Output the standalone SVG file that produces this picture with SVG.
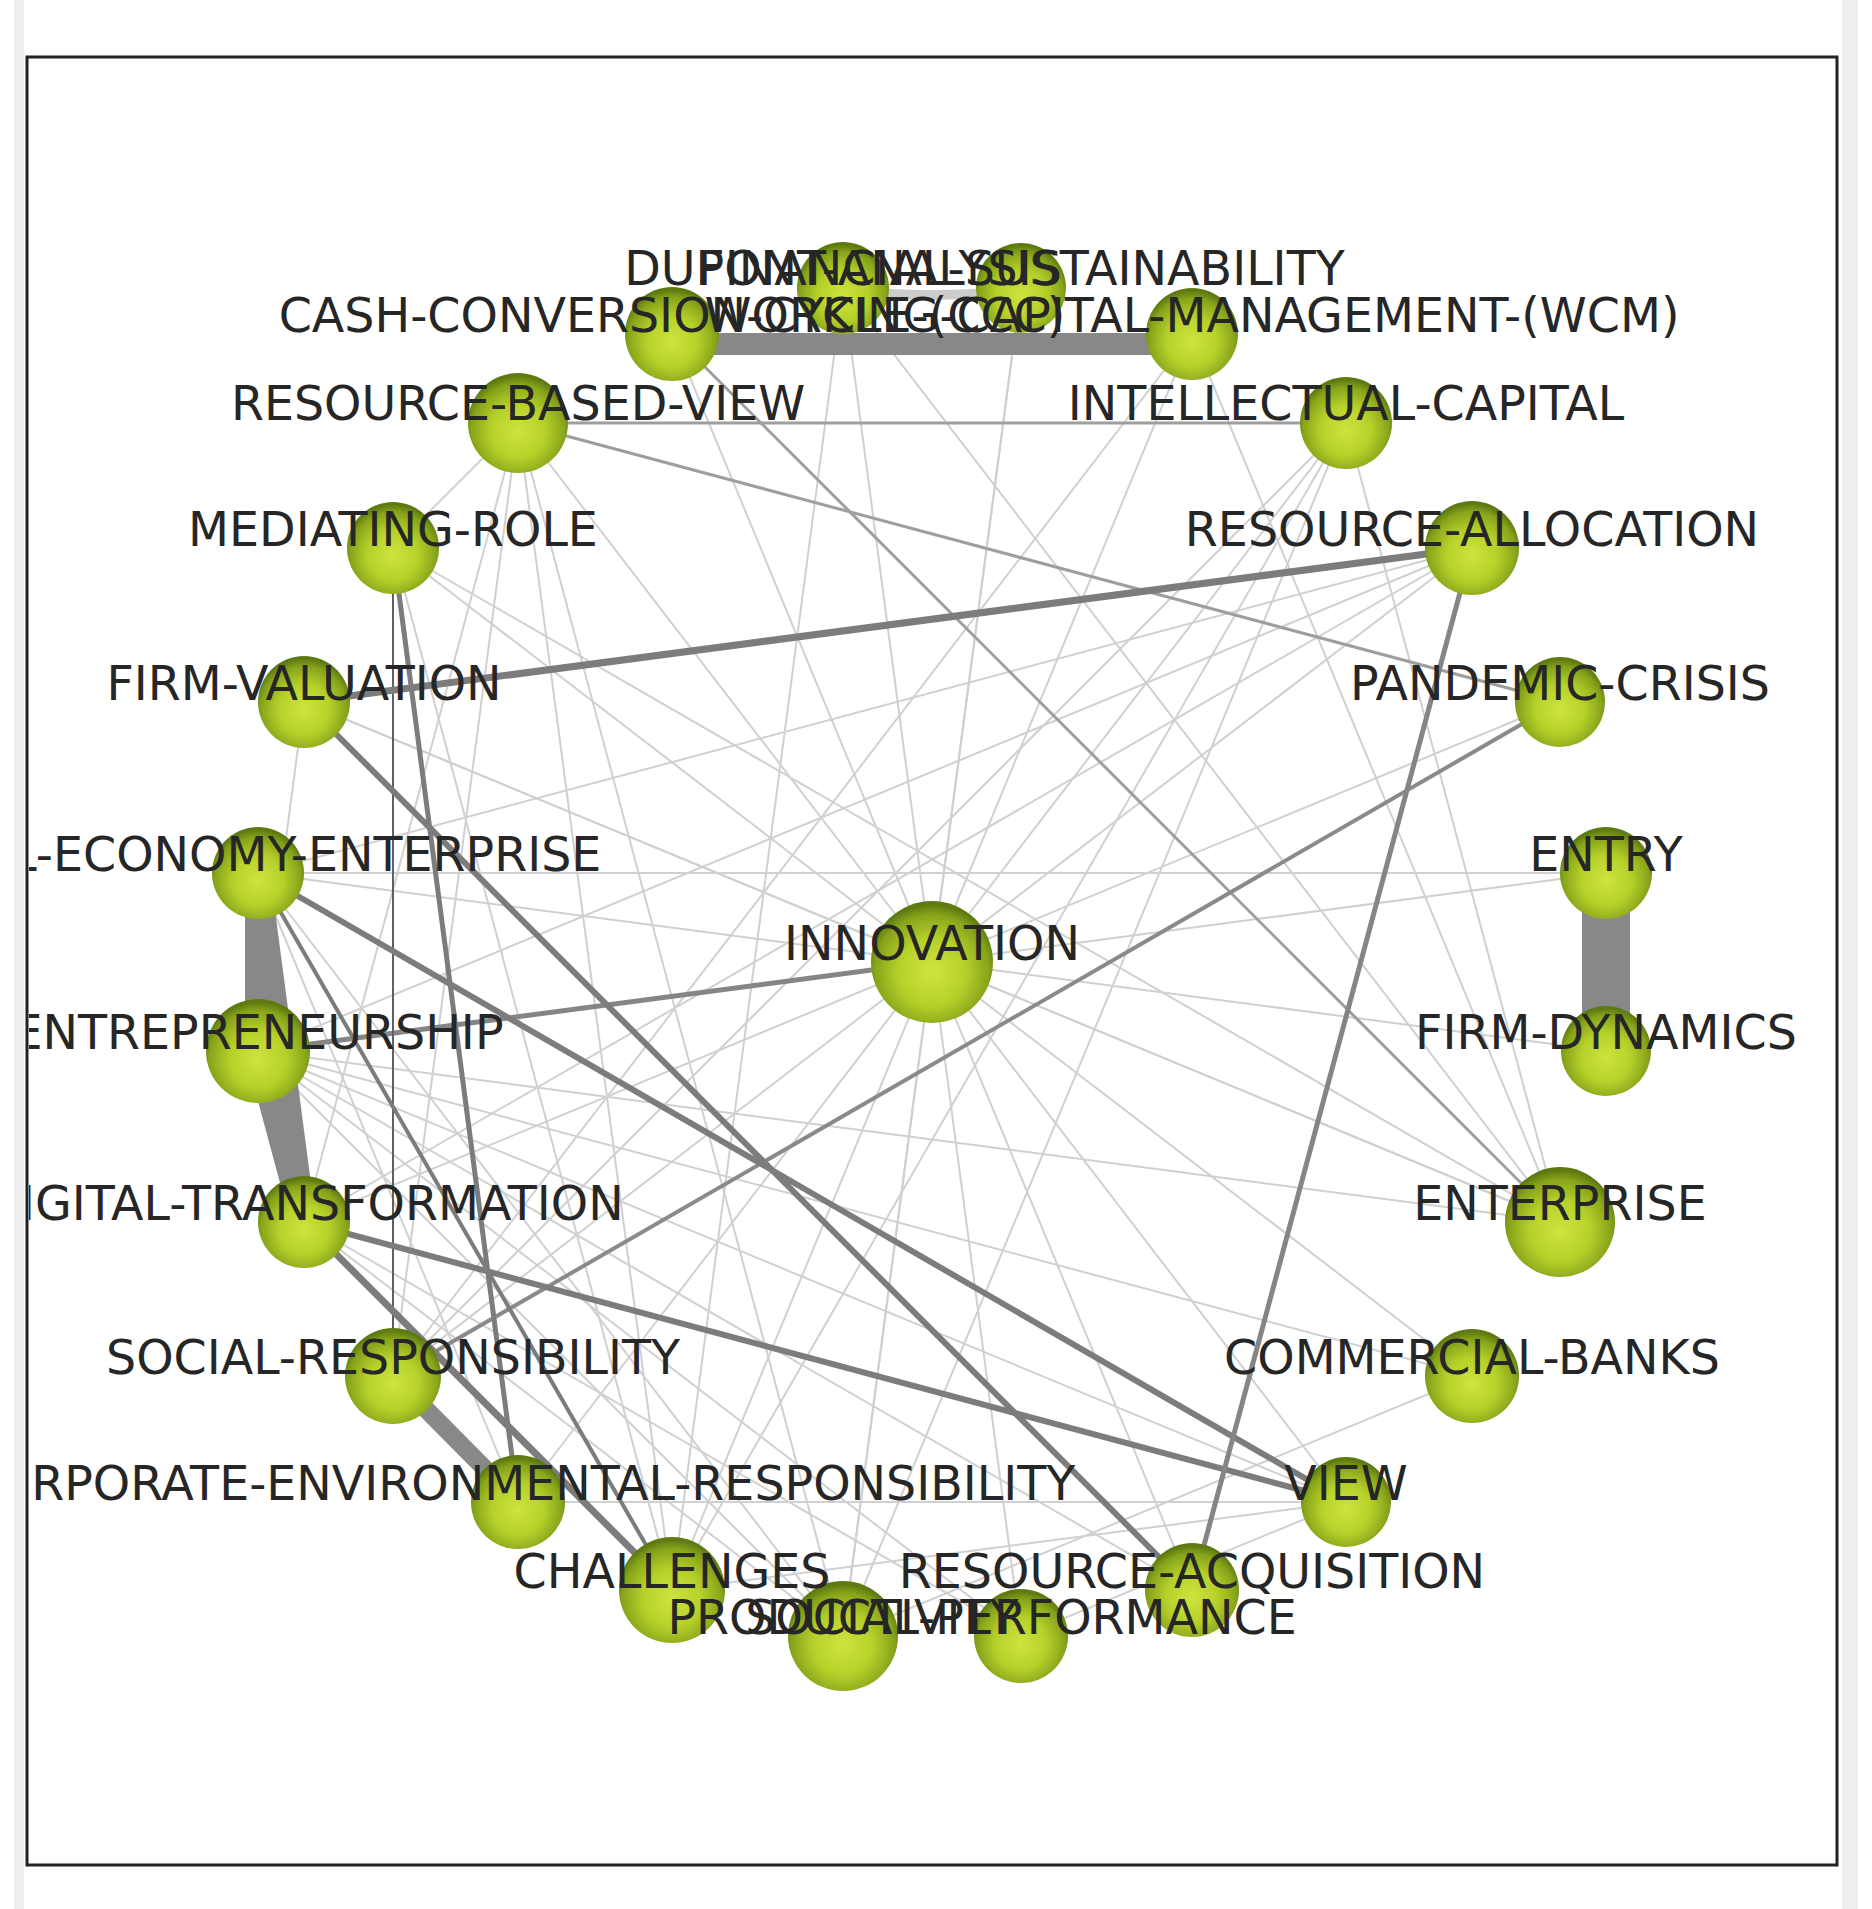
<svg xmlns="http://www.w3.org/2000/svg" width="1872" height="1909" viewBox="0 0 1872 1909">
<defs>
<radialGradient id="ball" cx="50%" cy="58%" r="55%">
<stop offset="0" stop-color="#cfe43e"/>
<stop offset="0.5" stop-color="#b6d02a"/>
<stop offset="0.85" stop-color="#87a41a"/>
<stop offset="1" stop-color="#5e7b12"/>
</radialGradient>
<clipPath id="frame"><rect x="29" y="59" width="1806" height="1804"/></clipPath>
<style>
.e1{stroke:#d0d0d0;stroke-width:2;fill:none}
.e2{stroke:#9e9e9e;stroke-width:3;fill:none}
.e3{stroke:#7c7c7c;stroke-width:6;fill:none}
.e4{stroke:#707070;stroke-width:3;fill:none}
.ek{stroke:#888888;fill:none}
.n{fill:url(#ball)}
.lbl{font-family:"DejaVu Sans","Liberation Sans",sans-serif;font-size:47.5px;fill:#262626;text-anchor:middle}
</style>
</defs>
<rect width="1872" height="1909" fill="#ffffff"/>
<rect x="14" y="0" width="10" height="1909" fill="#eeeeee"/>
<rect x="1842" y="0" width="16" height="1909" fill="#eeeeee"/>
<g clip-path="url(#frame)">
<g id="connectors">
<line class="e1" x1="932" y1="962" x2="1021" y2="288"/>
<line class="e1" x1="932" y1="962" x2="1192" y2="334"/>
<line class="e1" x1="932" y1="962" x2="1346" y2="423"/>
<line class="e1" x1="932" y1="962" x2="1472" y2="548"/>
<line class="e1" x1="932" y1="962" x2="1560" y2="702"/>
<line class="e1" x1="932" y1="962" x2="1606" y2="873"/>
<line class="e1" x1="932" y1="962" x2="1606" y2="1051"/>
<line class="e1" x1="932" y1="962" x2="1560" y2="1222"/>
<line class="e1" x1="932" y1="962" x2="1472" y2="1376"/>
<line class="e1" x1="932" y1="962" x2="1346" y2="1502"/>
<line class="e1" x1="932" y1="962" x2="1192" y2="1590"/>
<line class="e1" x1="932" y1="962" x2="1021" y2="1636"/>
<line class="e1" x1="932" y1="962" x2="843" y2="1636"/>
<line class="e1" x1="932" y1="962" x2="672" y2="1590"/>
<line class="e1" x1="932" y1="962" x2="518" y2="1502"/>
<line class="e1" x1="932" y1="962" x2="393" y2="1376"/>
<line class="e1" x1="932" y1="962" x2="304" y2="1222"/>
<line class="e1" x1="932" y1="962" x2="258" y2="873"/>
<line class="e1" x1="932" y1="962" x2="304" y2="702"/>
<line class="e1" x1="932" y1="962" x2="393" y2="548"/>
<line class="e1" x1="932" y1="962" x2="518" y2="423"/>
<line class="e1" x1="932" y1="962" x2="672" y2="334"/>
<line class="e1" x1="932" y1="962" x2="843" y2="288"/>
<line class="e1" x1="518" y1="423" x2="393" y2="548"/>
<line class="e1" x1="518" y1="423" x2="393" y2="1376"/>
<line class="e1" x1="518" y1="423" x2="304" y2="1222"/>
<line class="e1" x1="518" y1="423" x2="672" y2="1590"/>
<line class="e1" x1="518" y1="423" x2="843" y2="1636"/>
<line class="e1" x1="393" y1="548" x2="672" y2="1590"/>
<line class="e1" x1="393" y1="548" x2="1560" y2="1222"/>
<line class="e1" x1="258" y1="873" x2="1472" y2="548"/>
<line class="e1" x1="258" y1="1051" x2="1472" y2="548"/>
<line class="e1" x1="304" y1="1222" x2="1472" y2="548"/>
<line class="e1" x1="1346" y1="423" x2="393" y2="1376"/>
<line class="e1" x1="1346" y1="423" x2="672" y2="1590"/>
<line class="e1" x1="1346" y1="423" x2="843" y2="1636"/>
<line class="e1" x1="258" y1="1051" x2="1560" y2="1222"/>
<line class="e1" x1="258" y1="1051" x2="1472" y2="1376"/>
<line class="e1" x1="258" y1="1051" x2="1346" y2="1502"/>
<line class="e1" x1="258" y1="1051" x2="1192" y2="1590"/>
<line class="e1" x1="258" y1="1051" x2="1021" y2="1636"/>
<line class="e1" x1="258" y1="1051" x2="843" y2="1636"/>
<line class="e1" x1="258" y1="873" x2="843" y2="1636"/>
<line class="e1" x1="258" y1="873" x2="518" y2="1502"/>
<line class="e1" x1="304" y1="1222" x2="1021" y2="1636"/>
<line class="e1" x1="304" y1="1222" x2="843" y2="1636"/>
<line class="e1" x1="518" y1="1502" x2="1346" y2="1502"/>
<line class="e1" x1="672" y1="1590" x2="1346" y2="1502"/>
<line class="e1" x1="843" y1="1636" x2="1472" y2="1376"/>
<line class="e1" x1="1021" y1="1636" x2="1346" y2="1502"/>
<line class="e1" x1="1606" y1="873" x2="258" y2="873"/>
<line class="e1" x1="1560" y1="1222" x2="1192" y2="334"/>
<line class="e1" x1="1560" y1="1222" x2="1346" y2="423"/>
<line class="e1" x1="1560" y1="1222" x2="843" y2="288"/>
<line class="e1" x1="1560" y1="1222" x2="304" y2="702"/>
<line class="e1" x1="304" y1="702" x2="258" y2="1051"/>
<line class="e1" x1="843" y1="288" x2="672" y2="1590"/>
<line class="e1" x1="1021" y1="288" x2="843" y2="1636"/>
<line class="e1" x1="1192" y1="334" x2="393" y2="1376"/>
<line class="e2" x1="518" y1="423" x2="1346" y2="423"/>
<line class="e2" x1="518" y1="423" x2="1560" y2="702"/>
<line class="e2" x1="672" y1="334" x2="1560" y2="1222"/>
<line class="e2" x1="1560" y1="702" x2="393" y2="1376" style="stroke:#8a8a8a;stroke-width:4"/>
<line class="e2" x1="258" y1="1051" x2="932" y2="962" style="stroke:#858585;stroke-width:5"/>
<line class="e4" x1="393" y1="548" x2="393" y2="1376" style="stroke:#606060;stroke-width:2"/>
<line class="e3" x1="304" y1="702" x2="1472" y2="548" style="stroke-width:7"/>
<line class="e3" x1="304" y1="702" x2="1192" y2="1590"/>
<line class="e3" x1="258" y1="873" x2="1346" y2="1502"/>
<line class="e3" x1="304" y1="1222" x2="1346" y2="1502"/>
<line class="e3" x1="393" y1="548" x2="518" y2="1502" style="stroke-width:5"/>
<line class="e3" x1="1472" y1="548" x2="1192" y2="1590" style="stroke:#858585;stroke-width:5"/>
<line class="e3" x1="258" y1="873" x2="672" y2="1590" style="stroke-width:4"/>
<line class="e3" x1="304" y1="1222" x2="672" y2="1590" style="stroke-width:7"/>
<line class="ek" x1="672" y1="344" x2="1192" y2="344" style="stroke-width:22"/>
<path class="ek" d="M843,290 Q932,300 1021,290" style="stroke:#cccccc;stroke-width:10"/>
<line class="ek" x1="1606" y1="873" x2="1606" y2="1051" style="stroke-width:48"/>
<line class="ek" x1="258" y1="873" x2="258" y2="1051" style="stroke-width:26"/>
<line class="ek" x1="258" y1="873" x2="304" y2="1222" style="stroke-width:24"/>
<line class="ek" x1="258" y1="1051" x2="304" y2="1222" style="stroke-width:26"/>
<line class="ek" x1="393" y1="1376" x2="518" y2="1502" style="stroke-width:18"/>
</g>
<g id="nodes">
<g id="n-fin-sust"><circle class="n" cx="1021" cy="288" r="45"/></g>
<g id="n-wcm"><circle class="n" cx="1192" cy="334" r="46"/></g>
<g id="n-ic"><circle class="n" cx="1346" cy="423" r="46"/></g>
<g id="n-ra"><circle class="n" cx="1472" cy="548" r="47"/></g>
<g id="n-pc"><circle class="n" cx="1560" cy="702" r="45"/></g>
<g id="n-entry"><circle class="n" cx="1606" cy="873" r="46"/></g>
<g id="n-fd"><circle class="n" cx="1606" cy="1051" r="45"/></g>
<g id="n-enterprise"><circle class="n" cx="1560" cy="1222" r="55"/></g>
<g id="n-cb"><circle class="n" cx="1472" cy="1376" r="47"/></g>
<g id="n-view"><circle class="n" cx="1346" cy="1502" r="45"/></g>
<g id="n-raq"><circle class="n" cx="1192" cy="1590" r="47"/></g>
<g id="n-perf"><circle class="n" cx="1021" cy="1636" r="47"/></g>
<g id="n-prod"><circle class="n" cx="843" cy="1636" r="55"/></g>
<g id="n-ch"><circle class="n" cx="672" cy="1590" r="53"/></g>
<g id="n-cer"><circle class="n" cx="518" cy="1502" r="47"/></g>
<g id="n-sr"><circle class="n" cx="393" cy="1376" r="48"/></g>
<g id="n-dt"><circle class="n" cx="304" cy="1222" r="46"/></g>
<g id="n-entre"><circle class="n" cx="258" cy="1051" r="52"/></g>
<g id="n-ree"><circle class="n" cx="258" cy="873" r="46"/></g>
<g id="n-fv"><circle class="n" cx="304" cy="702" r="46"/></g>
<g id="n-mr"><circle class="n" cx="393" cy="548" r="46"/></g>
<g id="n-rbv"><circle class="n" cx="518" cy="423" r="50"/></g>
<g id="n-ccc"><circle class="n" cx="672" cy="334" r="47"/></g>
<g id="n-dupont"><circle class="n" cx="843" cy="288" r="46"/></g>
<g id="n-innovation"><circle class="n" cx="932" cy="962" r="61"/></g>
</g>
<g id="labels">
<text class="lbl" x="1021" y="285">FINANCIAL-SUSTAINABILITY</text>
<text class="lbl" x="843" y="285">DUPONT-ANALYSIS</text>
<text class="lbl" x="672" y="332">CASH-CONVERSION-CYCLE-(CCC)</text>
<text class="lbl" x="1192" y="332">WORKING-CAPITAL-MANAGEMENT-(WCM)</text>
<text class="lbl" x="518" y="420">RESOURCE-BASED-VIEW</text>
<text class="lbl" x="1346" y="420">INTELLECTUAL-CAPITAL</text>
<text class="lbl" x="393" y="546">MEDIATING-ROLE</text>
<text class="lbl" x="1472" y="546">RESOURCE-ALLOCATION</text>
<text class="lbl" x="304" y="700">FIRM-VALUATION</text>
<text class="lbl" x="1560" y="700">PANDEMIC-CRISIS</text>
<text class="lbl" x="258" y="871">REAL-ECONOMY-ENTERPRISE</text>
<text class="lbl" x="1606" y="871">ENTRY</text>
<text class="lbl" x="932" y="960">INNOVATION</text>
<text class="lbl" x="258" y="1049">ENTREPRENEURSHIP</text>
<text class="lbl" x="1606" y="1049">FIRM-DYNAMICS</text>
<text class="lbl" x="304" y="1220">DIGITAL-TRANSFORMATION</text>
<text class="lbl" x="1560" y="1220">ENTERPRISE</text>
<text class="lbl" x="393" y="1374">SOCIAL-RESPONSIBILITY</text>
<text class="lbl" x="1472" y="1374">COMMERCIAL-BANKS</text>
<text class="lbl" x="518" y="1500">CORPORATE-ENVIRONMENTAL-RESPONSIBILITY</text>
<text class="lbl" x="1346" y="1500">VIEW</text>
<text class="lbl" x="672" y="1588">CHALLENGES</text>
<text class="lbl" x="1192" y="1588">RESOURCE-ACQUISITION</text>
<text class="lbl" x="843" y="1634">PRODUCTIVITY</text>
<text class="lbl" x="1021" y="1634">SOCIAL-PERFORMANCE</text>
</g>
</g>
<rect x="27" y="57" width="1810" height="1808" fill="none" stroke="#222222" stroke-width="3"/>
</svg>
